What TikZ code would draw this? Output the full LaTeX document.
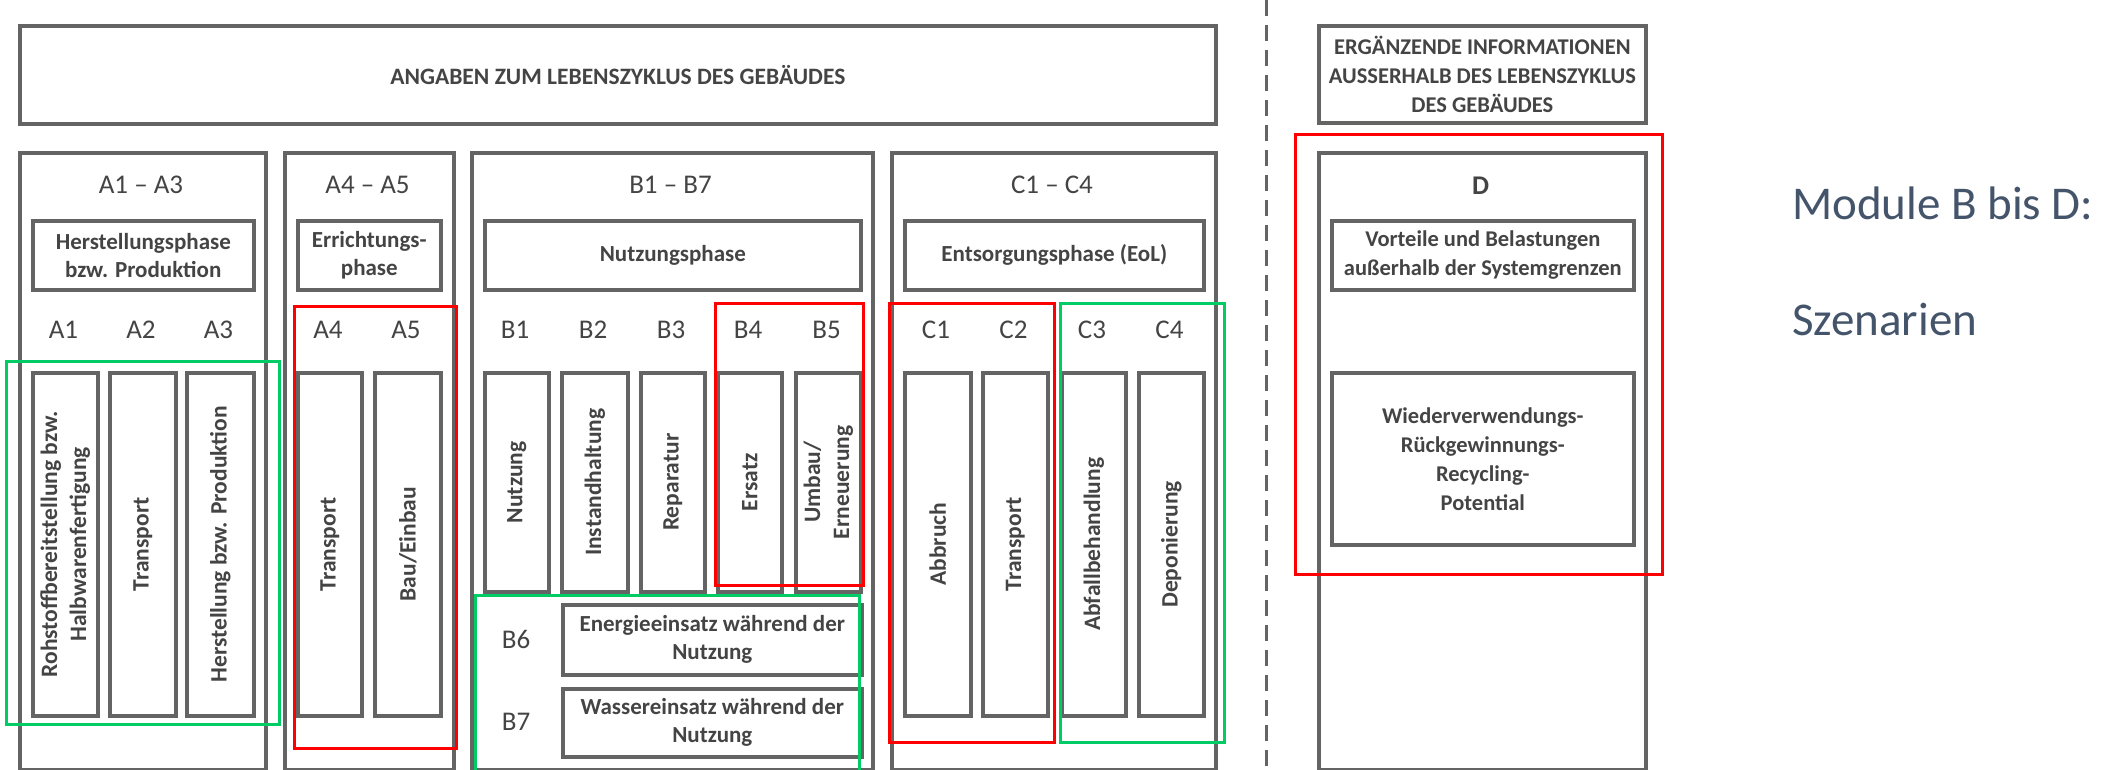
\documentclass[tikz,border=0pt]{standalone}
\usepackage{fontspec}
\setmainfont{Carlito}
\definecolor{lg}{RGB}{100,100,100}
\definecolor{tg}{RGB}{68,68,68}
\definecolor{hred}{RGB}{255,0,0}
\definecolor{hgreen}{RGB}{0,204,102}
\definecolor{modc}{HTML}{44546A}
\newcommand\rbox[7]{\node[#1,minimum width={#5pt-#3pt},minimum height={#6pt-#4pt}] (#2) at (#3,#4) {#7};}
\begin{document}
\begin{tikzpicture}[x=1pt,y=-1pt,
  gbox/.style={draw=lg,line width=3.6pt,inner sep=0pt,anchor=north west,text=tg,align=center},
  hlr/.style={draw=hred,line width=3pt,inner sep=0pt,anchor=north west},
  hlg/.style={draw=hgreen,line width=3pt,inner sep=0pt,anchor=north west},
  boxtxt/.style={font=\fontsize{23}{28}\selectfont\bfseries},
  boxtxtw/.style={font=\fontsize{22.5}{29}\selectfont\bfseries},
  head/.style={text=tg,inner sep=0pt,font=\fontsize{27}{30}\selectfont},
  vtxt/.style={rotate=90,align=center,text=tg,inner sep=0pt,font=\fontsize{23.5}{29}\selectfont\bfseries},
  modtxt/.style={anchor=base west,text=modc,inner sep=0pt,font=\fontsize{47}{56}\selectfont}]
\useasboundingbox[fill=white] (0,0) rectangle (2123,770);

% header boxes
\rbox{gbox,font=\fontsize{23.5}{28}\selectfont\bfseries}{top}{18}{24}{1214}{122}{ANGABEN ZUM LEBENSZYKLUS DES GEBÄUDES}
\rbox{gbox,boxtxtw}{ext}{1317}{24}{1644}{121}{ERGÄNZENDE INFORMATIONEN\\AUSSERHALB DES LEBENSZYKLUS\\DES GEBÄUDES}

% dashed separator
\coordinate (dtop) at (1266,0);
\coordinate (dbot) at (1266,770);
\draw[lg,line width=3pt,dash pattern=on 16pt off 9pt] (dtop) -- (dbot);

% main boxes
\rbox{gbox}{mA}{18}{151}{264}{768}{}
\rbox{gbox}{mAb}{283}{151}{452}{768}{}
\rbox{gbox}{mB}{470}{151}{871}{768}{}
\rbox{gbox}{mC}{890}{151}{1214}{768}{}
\rbox{gbox}{mD}{1317}{151}{1644}{768}{}

% headings
\node[head] (hA) at (141,185) {A1 – A3};
\node[head] (hAb) at (367.5,185) {A4 – A5};
\node[head] (hB) at (670.5,185) {B1 – B7};
\node[head] (hC) at (1052,185) {C1 – C4};
\node[head,font=\fontsize{27}{30}\selectfont\bfseries] (hD) at (1480.5,186) {D};

% phase boxes
\rbox{gbox,boxtxt}{pA}{31}{219}{252}{288}{Herstellungsphase\\bzw. Produktion}
\rbox{gbox,boxtxt}{pAb}{296}{219}{439}{288}{Errichtungs-\\phase}
\rbox{gbox,boxtxt}{pB}{483}{219}{859}{288}{Nutzungsphase}
\rbox{gbox,boxtxt}{pC}{903}{219}{1202}{288}{Entsorgungsphase (EoL)}
\rbox{gbox,boxtxtw}{pD}{1330}{219}{1632}{288}{Vorteile und Belastungen\\außerhalb der Systemgrenzen}
\rbox{gbox,boxtxtw}{pDb}{1330}{371}{1632}{543}{Wiederverwendungs-\\Rückgewinnungs-\\Recycling-\\Potential}

% module labels
\node[head] (la1) at (63.5,330) {A1};
\node[head] (la2) at (141,330) {A2};
\node[head] (la3) at (218.5,330) {A3};
\node[head] (la4) at (328,330) {A4};
\node[head] (la5) at (406,330) {A5};
\node[head] (lb1) at (515,330) {B1};
\node[head] (lb2) at (593,330) {B2};
\node[head] (lb3) at (671,330) {B3};
\node[head] (lb4) at (748,330) {B4};
\node[head] (lb5) at (826.5,330) {B5};
\node[head] (lc1) at (936,330) {C1};
\node[head] (lc2) at (1013.5,330) {C2};
\node[head] (lc3) at (1092,330) {C3};
\node[head] (lc4) at (1169.5,330) {C4};

% A columns
\rbox{gbox}{a1}{31}{371}{96}{714}{}
\rbox{gbox}{a2}{108}{371}{174}{714}{}
\rbox{gbox}{a3}{185}{371}{252}{714}{}
\rbox{gbox}{a4}{296}{371}{360}{714}{}
\rbox{gbox}{a5}{373}{371}{439}{714}{}
\node[vtxt] (ta1) at (a1.center) {Rohstoffbereitstellung bzw.\\Halbwarenfertigung};
\node[vtxt] (ta2) at (a2.center) {Transport};
\node[vtxt] (ta3) at (a3.center) {Herstellung bzw. Produktion};
\node[vtxt] (ta4) at (a4.center) {Transport};
\node[vtxt] (ta5) at (a5.center) {Bau/Einbau};

% B columns
\rbox{gbox}{b1}{483}{371}{547}{590}{}
\rbox{gbox}{b2}{560}{371}{626}{590}{}
\rbox{gbox}{b3}{639}{371}{703}{590}{}
\rbox{gbox}{b4}{716}{371}{780}{590}{}
\rbox{gbox}{b5}{794}{371}{859}{590}{}
\node[vtxt] (tb1) at (b1.center) {Nutzung};
\node[vtxt] (tb2) at (b2.center) {Instandhaltung};
\node[vtxt] (tb3) at (b3.center) {Reparatur};
\node[vtxt] (tb4) at (b4.center) {Ersatz};
\node[vtxt] (tb5) at (b5.center) {Umbau/\\Erneuerung};

% B6 / B7
\rbox{gbox,boxtxt}{b6}{561}{603}{860}{673}{Energieeinsatz während der\\Nutzung}
\rbox{gbox,boxtxt}{b7}{561}{687}{860}{755}{Wassereinsatz während der\\Nutzung}
\node[head] (lb6) at (516,639) {B6};
\node[head] (lb7) at (516,722) {B7};

% C columns
\rbox{gbox}{c1}{903}{371}{969}{714}{}
\rbox{gbox}{c2}{981}{371}{1046}{714}{}
\rbox{gbox}{c3}{1060}{371}{1124}{714}{}
\rbox{gbox}{c4}{1137}{371}{1202}{714}{}
\node[vtxt] (tc1) at (c1.center) {Abbruch};
\node[vtxt] (tc2) at (c2.center) {Transport};
\node[vtxt] (tc3) at (c3.center) {Abfallbehandlung};
\node[vtxt] (tc4) at (c4.center) {Deponierung};

% highlight frames
\rbox{hlg}{gA}{5}{360}{278}{723}{}
\rbox{hlr}{rA}{293}{305}{455}{747}{}
\rbox{hlr}{rB}{714}{302}{862}{584}{}
\rbox{hlr}{rC}{888}{302}{1053}{741}{}
\rbox{hlg}{gC}{1059}{302}{1223}{741}{}
\rbox{hlr}{rD}{1294}{133}{1661}{573}{}
\coordinate (gBl) at (475,775);
\coordinate (gBtr) at (859,595);
\coordinate (gBr) at (859,775);
\draw[hgreen,line width=3pt] (gBl) |- (gBtr) -- (gBr);

% side text
\node[modtxt] (mod) at (1792,220) {Module B bis D:};
\node[modtxt] (szen) at (1792,335) {Szenarien};
\end{tikzpicture}
\end{document}
